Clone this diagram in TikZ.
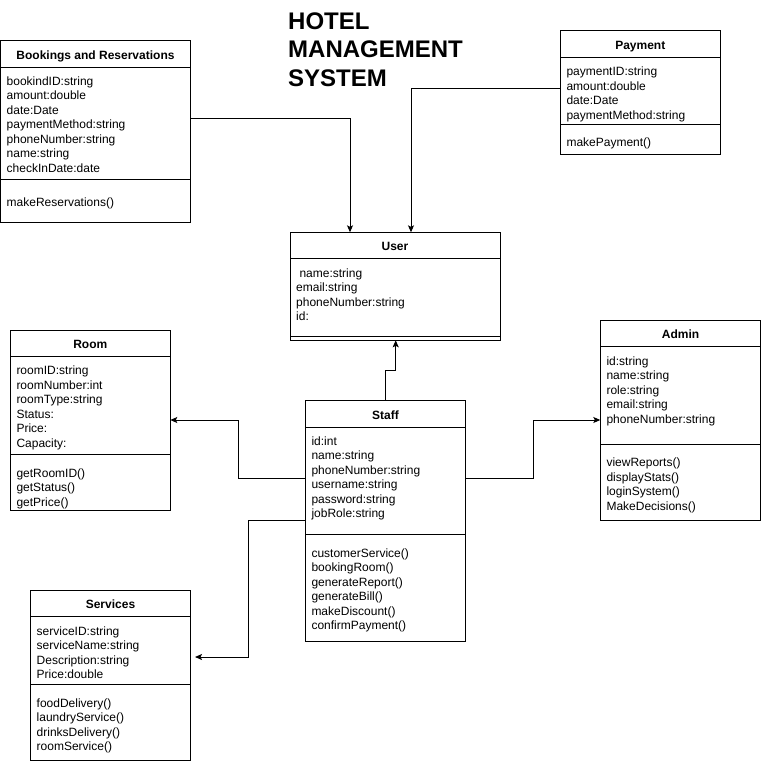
\documentclass[tikz,border=0pt]{standalone}
\usepackage{fontspec}
\setmainfont{Liberation Sans}
\usetikzlibrary{arrows.meta}
\begin{document}
\begin{tikzpicture}[x=1pt,y=-1pt,
  box/.style={draw=black,line width=1pt,anchor=north west,inner sep=0pt,outer sep=0pt},
  rule/.style={line width=1pt},
  txt/.style={anchor=base west,inner sep=0pt,font=\fontsize{12}{14.5}\selectfont},
  ttl/.style={anchor=base,inner sep=0pt,font=\fontsize{12}{14.5}\selectfont\bfseries},
  bigttl/.style={anchor=base west,inner sep=0pt,font=\fontsize{24}{28.8}\selectfont\bfseries},
  conn/.style={line width=1pt,-{Stealth[length=7pt,width=6pt,inset=1.5pt]}}]
\useasboundingbox (0,0) rectangle (762,764);

% Title
\node[bigttl] (title1) at (288,29.3) {HOTEL};
\node[bigttl] (title2) at (288,57.6) {MANAGEMENT};
\node[bigttl] (title3) at (288,86.2) {SYSTEM};

% Bookings and Reservations
\node[box,minimum width=190pt,minimum height=182pt] (book) at (0.5,40) {};
\draw[rule] (book.west |- 0,67) -- (book.east |- 0,67);
\draw[rule] (book.west |- 0,179) -- (book.east |- 0,179);
\node[ttl] (book-t) at (95.5,59) {Bookings and Reservations};
\foreach \t [count=\i from 0] in {bookindID:string,amount:double,date:Date,paymentMethod:string,phoneNumber:string,name:string,checkInDate:date}
  \node[txt] (book-a\i) at (6.5,{85.3+\i*14.5}) {\t};
\node[txt] (book-m0) at (6.5,206.5) {makeReservations()};

% Payment
\node[box,minimum width=160pt,minimum height=123.7pt] (pay) at (560.3,30.3) {};
\draw[rule] (pay.west |- 0,57) -- (pay.east |- 0,57);
\draw[rule] (pay.west |- 0,124.5) -- (pay.east |- 0,124.5);
\node[ttl] (pay-t) at (640.3,49.1) {Payment};
\foreach \t [count=\i from 0] in {paymentID:string,amount:double,date:Date,paymentMethod:string}
  \node[txt] (pay-a\i) at (566.3,{75.5+\i*14.5}) {\t};
\node[txt] (pay-m0) at (566.3,146.5) {makePayment()};

% User
\node[box,minimum width=210pt,minimum height=108pt] (user) at (290,232.3) {};
\draw[rule] (user.west |- 0,258.3) -- (user.east |- 0,258.3);
\draw[rule] (user.west |- 0,336) -- (user.east |- 0,336);
\node[ttl] (user-t) at (395,250.8) {User};
\foreach \t [count=\i from 0] in {{\hspace*{3.3pt}name:string},email:string,phoneNumber:string,id:}
  \node[txt] (user-a\i) at (296,{277+\i*14.5}) {\t};

% Room
\node[box,minimum width=160pt,minimum height=179.7pt] (room) at (10.3,330.3) {};
\draw[rule] (room.west |- 0,356) -- (room.east |- 0,356);
\draw[rule] (room.west |- 0,454.3) -- (room.east |- 0,454.3);
\node[ttl] (room-t) at (90.3,348.7) {Room};
\foreach \t [count=\i from 0] in {roomID:string,roomNumber:int,roomType:string,Status:,Price:,Capacity:}
  \node[txt] (room-a\i) at (16.3,{374.5+\i*14.5}) {\t};
\foreach \t [count=\i from 0] in {getRoomID(),getStatus(),getPrice()}
  \node[txt] (room-m\i) at (16.3,{477+\i*14.5}) {\t};

% Staff
\node[box,minimum width=160.3pt,minimum height=240.7pt] (staff) at (305.3,400.3) {};
\draw[rule] (staff.west |- 0,427.3) -- (staff.east |- 0,427.3);
\draw[rule] (staff.west |- 0,534.3) -- (staff.east |- 0,534.3);
\node[ttl] (staff-t) at (385.5,419.3) {Staff};
\foreach \t [count=\i from 0] in {id:int,name:string,phoneNumber:string,username:string,password:string,jobRole:string}
  \node[txt] (staff-a\i) at (311.3,{445.2+\i*14.5}) {\t};
\foreach \t [count=\i from 0] in {customerService(),bookingRoom(),generateReport(),generateBill(),makeDiscount(),confirmPayment()}
  \node[txt] (staff-m\i) at (311.3,{557.3+\i*14.5}) {\t};

% Admin
\node[box,minimum width=160.5pt,minimum height=200pt] (admin) at (600.3,320) {};
\draw[rule] (admin.west |- 0,346) -- (admin.east |- 0,346);
\draw[rule] (admin.west |- 0,444.3) -- (admin.east |- 0,444.3);
\node[ttl] (admin-t) at (680.5,338.5) {Admin};
\foreach \t [count=\i from 0] in {id:string,name:string,role:string,email:string,phoneNumber:string}
  \node[txt] (admin-a\i) at (606.3,{365+\i*14.5}) {\t};
\foreach \t [count=\i from 0] in {viewReports(),displayStats(),loginSystem(),MakeDecisions()}
  \node[txt] (admin-m\i) at (606.3,{466.7+\i*14.5}) {\t};

% Services
\node[box,minimum width=160pt,minimum height=170pt] (svc) at (30.5,590) {};
\draw[rule] (svc.west |- 0,616.3) -- (svc.east |- 0,616.3);
\draw[rule] (svc.west |- 0,684) -- (svc.east |- 0,684);
\node[ttl] (svc-t) at (110.5,608.7) {Services};
\foreach \t [count=\i from 0] in {serviceID:string,serviceName:string,Description:string,Price:double}
  \node[txt] (svc-a\i) at (36.5,{635.3+\i*14.5}) {\t};
\foreach \t [count=\i from 0] in {foodDelivery(),laundryService(),drinksDelivery(),roomService()}
  \node[txt] (svc-m\i) at (36.5,{707+\i*14.5}) {\t};

% Connectors
\draw[conn] (book.east |- 0,118) -| (user.north -| 350,0);
\draw[conn] (pay.west |- 0,88) -| (user.north -| 411,0);
\draw[conn] (staff.north -| 385,0) -- (385,370) -| (user.south -| 395.7,0);
\draw[conn] (staff.west |- 0,478) -- (238,478) |- (room.east |- 0,420);
\draw[conn] (staff.east |- 0,478) -- (533,478) |- (admin.west |- 0,420);
\coordinate (svcend) at (195,657);
\draw[conn] (staff.west |- 0,520) -- (248,520) |- (svcend);
\end{tikzpicture}
\end{document}
